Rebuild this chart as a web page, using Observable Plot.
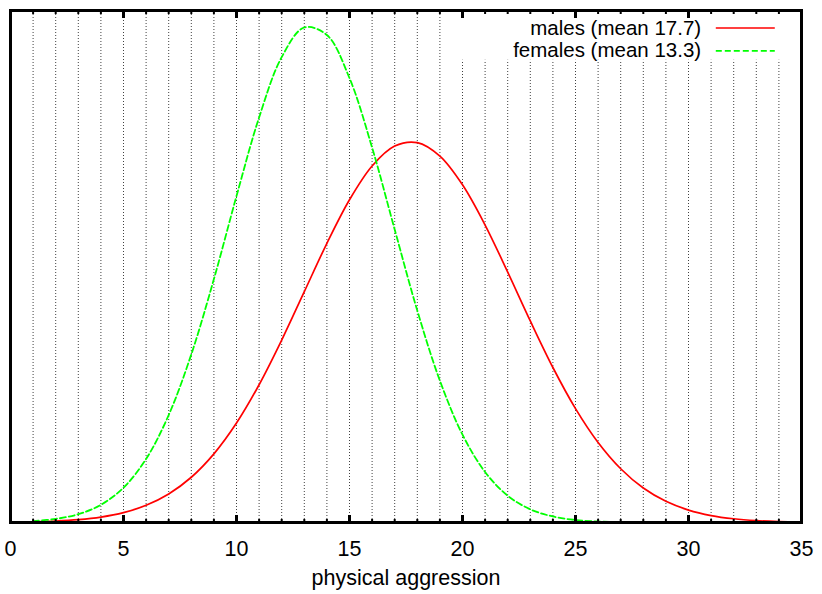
<!DOCTYPE html>
<html>
<head>
<meta charset="utf-8">
<script src="https://cdn.jsdelivr.net/npm/d3@7"></script>
<script src="https://cdn.jsdelivr.net/npm/@observablehq/plot@0.6"></script>
<style>
  html, body { margin: 0; padding: 0; background: #fff; }
  #chart svg { display: block; }
</style>
</head>
<body>
<div id="chart"></div>
<script>
// x positions (physical aggression score)
const xs = [1,2,3,4,5,6,7,8,9,10,11,12,13,14,15,16,17,18,19,20,21,22,23,24,25,26,27,28,29,30,31,32,33,34,35];
// curve heights
const males = [0.00015,0.00032,0.00064,0.00121,0.00220,0.00383,0.00636,0.01009,0.01531,0.02218,0.03073,0.04069,0.05149,0.06227,0.07199,0.07953,0.08397,0.08473,0.08172,0.07532,0.06635,0.05586,0.04495,0.03457,0.02541,0.01785,0.01199,0.00769,0.00472,0.00277,0.00155,0.00083,0.00042,0.00021,0.00010];
const females = [0.00032,0.00080,0.00185,0.00394,0.00777,0.01418,0.02397,0.03750,0.05429,0.07280,0.09035,0.10381,0.11041,0.10873,0.09911,0.08363,0.06534,0.04726,0.03163,0.01960,0.01125,0.00597,0.00294,0.00134,0.00056,0.00022,0.00008,0.00003,0.00001,0,0,0,0,0,0];
const seriesNames = ["males (mean 17.7)", "females (mean 13.3)"];
const seriesColors = ["#ff0000", "#00ff00"];
const xTickLabels = [0,5,10,15,20,25,30,35];
const minorTicks = d3.range(0, 36);
const gridXs = d3.range(1, 35);
const xLabel = "physical aggression";

const yMax = 0.1142;
const legendBottom = 0.1031;
const legendY = [0.1103, 0.1052];
const legendTextX = 30.56;
const legendLineX = [31.23, 33.84];

const maleData = xs.map((x, i) => ({x, y: males[i]}));
const femaleData = xs.map((x, i) => ({x, y: females[i]}));

const font = "'Liberation Sans', Arial, Helvetica, sans-serif";

const chart = Plot.plot({
  width: 822,
  height: 594,
  marginLeft: 10,
  marginRight: 21,
  marginTop: 10,
  marginBottom: 72,
  style: {fontFamily: font, fontSize: "21px", background: "white", color: "black"},
  x: {domain: [0, 35], label: null},
  y: {domain: [0, yMax], axis: null},
  marks: [
    // dotted vertical grid
    Plot.ruleX(gridXs, {
      x: d => d, y1: 0, y2: d => d >= 20 ? legendBottom : yMax,
      stroke: "black", strokeWidth: 1, strokeDasharray: "1,2", strokeOpacity: 0.75
    }),
    // curves
    Plot.line(maleData, {x: "x", y: "y", stroke: seriesColors[0], strokeWidth: 1.7, curve: "catmull-rom"}),
    Plot.line(femaleData, {x: "x", y: "y", stroke: seriesColors[1], strokeWidth: 1.8, strokeDasharray: "6,3", curve: "catmull-rom"}),
    // ticks (inward) bottom and top
    Plot.axisX(minorTicks, {anchor: "bottom", tickSize: -3, strokeWidth: 2, text: null, label: null}),
    Plot.axisX(xTickLabels, {anchor: "bottom", tickSize: -7, strokeWidth: 3, text: null, label: null}),
    Plot.axisX(minorTicks, {anchor: "top", tickSize: -3, strokeWidth: 2, text: null, label: null}),
    Plot.axisX(xTickLabels, {anchor: "top", tickSize: -7, strokeWidth: 3, text: null, label: null}),
    // tick labels
    Plot.axisX(xTickLabels, {anchor: "bottom", tickSize: 0, tickPadding: 18, fontSize: 21.5, label: null}),
    // x label
    Plot.text([xLabel], {frameAnchor: "bottom", dy: 56, text: d => d, fontSize: 21.5, lineAnchor: "middle"}),
    // legend
    Plot.text(seriesNames, {x: legendTextX, y: (d, i) => legendY[i], text: d => d, textAnchor: "end", lineAnchor: "middle", fontSize: 20.5}),
    Plot.ruleY([0], {y: legendY[0], x1: legendLineX[0], x2: legendLineX[1], stroke: seriesColors[0], strokeWidth: 1.7}),
    Plot.ruleY([0], {y: legendY[1], x1: legendLineX[0], x2: legendLineX[1], stroke: seriesColors[1], strokeWidth: 1.8, strokeDasharray: "6,3"}),
    // frame
    Plot.frame({stroke: "black", strokeWidth: 3})
  ]
});
document.getElementById("chart").appendChild(chart);
</script>
</body>
</html>
